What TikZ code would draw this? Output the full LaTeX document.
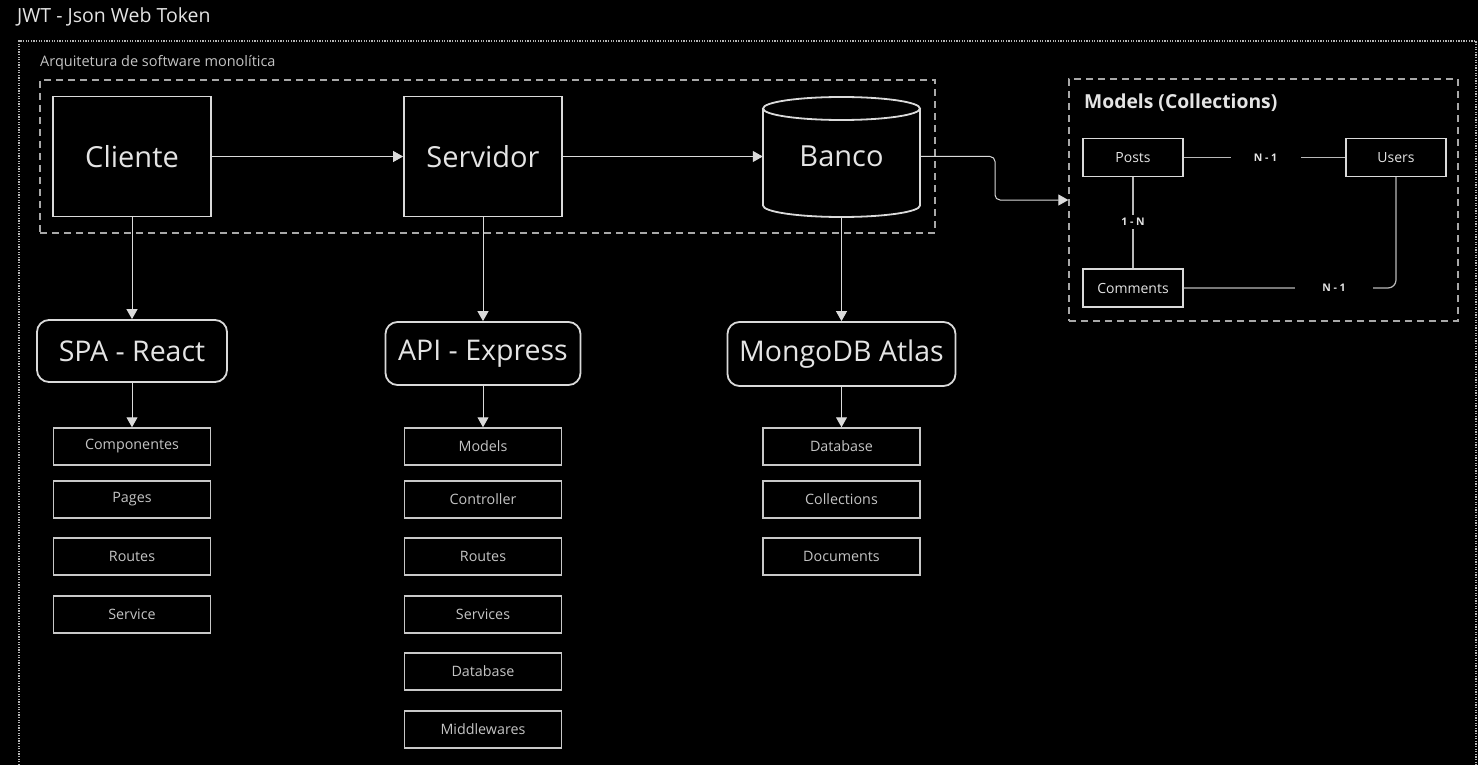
\documentclass[tikz,border=0pt]{standalone}
\usepackage{fontspec}
\setmainfont{Open Sans}
\usetikzlibrary{arrows.meta}
\definecolor{linec}{HTML}{DADADA}
\definecolor{smallc}{HTML}{C8C8C8}
\definecolor{txt}{HTML}{E4E4E4}
\definecolor{smalltxt}{HTML}{C4C4C4}
\definecolor{dashc}{HTML}{A8A8A8}
\definecolor{dotc}{HTML}{B4B4B4}
\begin{document}
\begin{tikzpicture}[x=1pt,y=-1pt,
  bigbox/.style={draw=linec, line width=1.8pt, minimum width=158pt, minimum height=120pt, inner sep=0pt, text=txt, font=\fontsize{29}{33}\selectfont},
  roundbox/.style={draw=linec, line width=1.8pt, rounded corners=12pt, inner sep=0pt, text=txt, font=\fontsize{28.5}{32}\selectfont},
  smallbox/.style={draw=smallc, line width=1.5pt, minimum width=157pt, minimum height=37pt, inner sep=0pt, text=smalltxt, font=\fontsize{14.3}{16}\selectfont},
  ermbox/.style={draw=linec, line width=1.4pt, minimum width=100pt, minimum height=38pt, inner sep=0pt, text=txt, font=\fontsize{14}{16}\selectfont},
  groupbox/.style={draw=dashc, line width=1.3pt, dash pattern=on 7pt off 5pt, inner sep=0pt},
  conn/.style={draw=linec, line width=1pt, -{Triangle[length=10pt,width=11pt]}},
  erline/.style={draw=linec!85!black, line width=1.2pt},
  rel/.style={fill=black, text=txt, font=\bfseries\fontsize{10.5}{12}\selectfont, inner sep=2pt},
  cyl/.style={draw=linec, line width=1.8pt}
]
\fill[black] (0,0) rectangle (1478,765);
\useasboundingbox (0,0) rectangle (1478,765);

% outer dotted frame
\draw[dotc, line width=1.3pt, dash pattern=on 1.3pt off 1.3pt] (19,765) -- (19,41) -- (1476,41) -- (1476,765);
\node[anchor=west, text=txt, font=\fontsize{19.5}{23}\selectfont, inner sep=0pt] (title) at (17,17) {JWT - Json Web Token};
\node[anchor=west, text=smalltxt, font=\fontsize{14.5}{17}\selectfont, inner sep=0pt] (archlbl) at (40,63) {Arquitetura de software monolítica};

% group boxes
\node[groupbox, minimum width=895pt, minimum height=153pt] (mono) at (487.5,156.5) {};
\node[groupbox, minimum width=389pt, minimum height=242pt] (models) at (1263.5,200) {};
\node[anchor=west, text=txt, font=\bfseries\fontsize{19.3}{22}\selectfont, inner sep=0pt] (modelslbl) at (1084,103) {Models (Collections)};

% main boxes
\node[bigbox] (cliente) at (132,156.5) {Cliente};
\node[bigbox] (servidor) at (483,156.5) {Servidor};
\node[minimum width=157pt, minimum height=120pt, inner sep=0pt, text=txt, font=\fontsize{29}{33}\selectfont] (banco) at (841.5,156.5) {Banco};
\draw[cyl] (763,108.5) -- (763,205.5) arc[start angle=180,end angle=360,x radius=78.5pt,y radius=11.5pt] -- (920,108.5);
\draw[cyl] (841.5,108.5) ellipse [x radius=78.5pt, y radius=11.5pt];

\draw[conn] (cliente.east) -- (servidor.west);
\draw[conn] (servidor.east) -- (banco.west);
\draw[conn, rounded corners=5pt] (banco.east) -- (995,156.5) |- (models.west);

% second row
\node[roundbox, minimum width=190pt, minimum height=62pt] (spa) at (132,351) {SPA - React};
\node[roundbox, minimum width=195pt, minimum height=63pt] (api) at (483,353.5) {API - Express};
\node[roundbox, minimum width=228pt, minimum height=64pt] (mongo) at (841.5,354) {MongoDB Atlas};

\draw[conn] (cliente.south) -- (spa.north);
\draw[conn] (servidor.south) -- (api.north);
\draw[conn] (banco.south) -- (mongo.north);

% left column
\node[smallbox] (comp) at (132,446.5) {Componentes};
\node[smallbox] (pages) at (132,499.5) {Pages};
\node[smallbox] (routesL) at (132,556.5) {Routes};
\node[smallbox] (service) at (132,614.5) {Service};
% middle column
\node[smallbox] (modelsM) at (483,446.5) {Models};
\node[smallbox] (controller) at (483,499.5) {Controller};
\node[smallbox] (routesM) at (483,556.5) {Routes};
\node[smallbox] (services) at (483,614.5) {Services};
\node[smallbox] (databaseM) at (483,671.5) {Database};
\node[smallbox] (middlewares) at (483,729.5) {Middlewares};
% right column
\node[smallbox] (databaseR) at (841.5,446.5) {Database};
\node[smallbox] (collections) at (841.5,499.5) {Collections};
\node[smallbox] (documents) at (841.5,556.5) {Documents};

\draw[conn] (spa.south) -- (comp.north);
\draw[conn] (api.south) -- (modelsM.north);
\draw[conn] (mongo.south) -- (databaseR.north);

% ER diagram
\node[ermbox] (posts) at (1133,157.5) {Posts};
\node[ermbox] (users) at (1396,157.5) {Users};
\node[ermbox] (comments) at (1133,288) {Comments};

\draw[erline] (posts.east) -- (users.west);
\node[rel, minimum width=70pt] (r1) at (1265.5,157.5) {N - 1};
\draw[erline] (posts.south) -- (comments.north);
\node[rel, inner sep=3pt] (r2) at (1133,222) {1 - N};
\draw[erline, rounded corners=8pt] (comments.east) -- (users.south |- comments.east) -- (users.south);
\node[rel, minimum width=78pt] (r3) at (1334,288) {N - 1};
\end{tikzpicture}
\end{document}
